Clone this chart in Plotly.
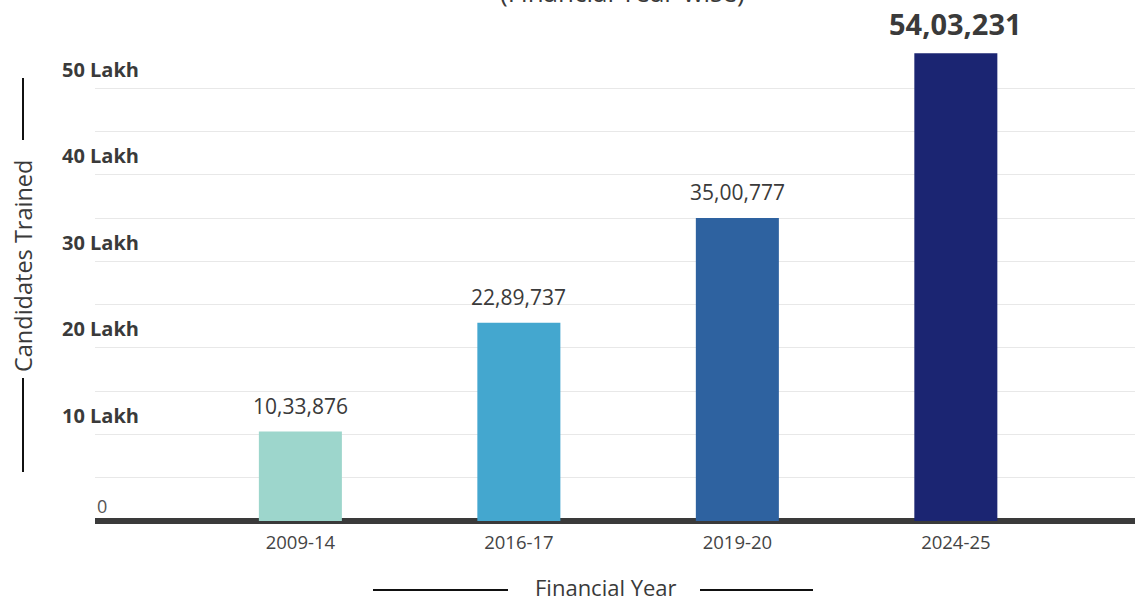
import plotly.graph_objects as go

# ---- data ----
years = ["2009-14", "2016-17", "2019-20", "2024-25"]
candidates = [1033876, 2289737, 3500777, 5403231]
bar_colors = ["#9dd6cc", "#44a7cf", "#2e62a0", "#1b2572"]
ytick_vals = [0, 1000000, 2000000, 3000000, 4000000, 5000000]
ytick_text = ["0", "10 Lakh", "20 Lakh", "30 Lakh", "40 Lakh", "50 Lakh"]

W, H = 1135, 598
ML, MR, MT, MB = 95, 0, 44, 77
PW, PH = W - ML - MR, H - MT - MB
FONT = "Open Sans"
TXT = "#3a3a3a"


def px_x(p):
    return (p - ML) / PW


def px_y(p):
    return (H - MB - p) / PH


def indian(n):
    s = str(n)
    head, tail = s[:-3], s[-3:]
    parts = []
    while len(head) > 2:
        parts.insert(0, head[-2:])
        head = head[:-2]
    if head:
        parts.insert(0, head)
    return ",".join(parts + [tail])


fig = go.Figure(
    go.Bar(
        x=years,
        y=candidates,
        marker=dict(color=bar_colors, line=dict(width=0)),
        width=0.38,
        hoverinfo="skip",
    )
)

annotations = []
# value labels
for i, (yr, v) in enumerate(zip(years, candidates)):
    last = i == len(years) - 1
    annotations.append(dict(
        x=yr, y=v, xref="x", yref="y",
        text=("<b>%s</b>" % indian(v)) if last else indian(v),
        showarrow=False, yanchor="bottom", yshift=8 if last else 10,
        font=dict(family=FONT, size=29 if last else 21, color=TXT),
    ))

# y tick labels (above their gridlines)
for v, t in zip(ytick_vals, ytick_text):
    if v == 0:
        annotations.append(dict(
            x=px_x(95), y=v, xref="paper", yref="y", text=t, showarrow=False,
            xanchor="left", yanchor="middle", yshift=15,
            font=dict(family=FONT, size=18, color="#555555"),
        ))
    else:
        annotations.append(dict(
            x=px_x(60), y=v, xref="paper", yref="y", text="<b>%s</b>" % t,
            showarrow=False, xanchor="left", yanchor="middle", yshift=19,
            font=dict(family=FONT, size=20, color=TXT),
        ))

# axis titles
annotations.append(dict(
    x=px_x(606), y=px_y(587), xref="paper", yref="paper", text="Financial Year",
    showarrow=False, xanchor="center", yanchor="middle",
    font=dict(family=FONT, size=22, color=TXT),
))
annotations.append(dict(
    x=px_x(23), y=px_y(266), xref="paper", yref="paper", text="Candidates Trained",
    showarrow=False, xanchor="center", yanchor="middle", textangle=-90,
    font=dict(family=FONT, size=23.5, color=TXT),
))
# cut-off subtitle at top
annotations.append(dict(
    x=px_x(622), y=px_y(12), xref="paper", yref="paper", text="(Financial Year-wise)",
    showarrow=False, xanchor="center", yanchor="bottom",
    font=dict(family=FONT, size=26, color=TXT),
))

line_style = dict(color="#111111", width=2)
shapes = [
    dict(type="line", xref="paper", yref="paper", x0=px_x(373), x1=px_x(508),
         y0=px_y(590), y1=px_y(590), line=line_style),
    dict(type="line", xref="paper", yref="paper", x0=px_x(700), x1=px_x(813),
         y0=px_y(590), y1=px_y(590), line=line_style),
    dict(type="line", xref="paper", yref="paper", x0=px_x(23), x1=px_x(23),
         y0=px_y(78), y1=px_y(140), line=line_style),
    dict(type="line", xref="paper", yref="paper", x0=px_x(23), x1=px_x(23),
         y0=px_y(378), y1=px_y(472), line=line_style),
]

fig.update_layout(
    width=W, height=H,
    margin=dict(l=ML, r=MR, t=MT, b=MB),
    plot_bgcolor="white", paper_bgcolor="white",
    showlegend=False,
    annotations=annotations,
    shapes=shapes,
    font=dict(family=FONT, color=TXT),
    xaxis=dict(
        type="category", range=[-0.94, 3.82],
        showgrid=False, showline=False, ticks="",
        tickfont=dict(family=FONT, size=18.5, color="#444444"),
        ticklabelstandoff=8,
    ),
    yaxis=dict(
        range=[0, 5510000], dtick=500000, tick0=0,
        showgrid=True, gridcolor="#e8e8e8", gridwidth=1,
        showticklabels=False, ticks="",
        zeroline=True, zerolinecolor="#3a3a3a", zerolinewidth=6,
        showline=False,
    ),
)

fig.write_html(
    "out.html",
    config={"displayModeBar": False},
    post_script="document.body.style.margin='0';document.body.style.overflow='hidden';",
)
